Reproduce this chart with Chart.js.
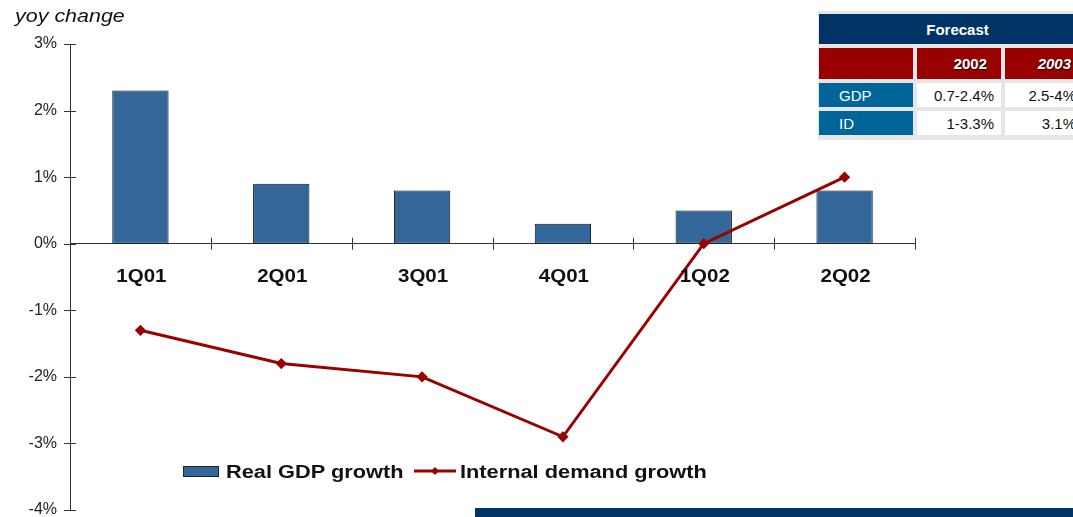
<!DOCTYPE html>
<html>
<head>
<meta charset="utf-8">
<script src="https://cdn.jsdelivr.net/npm/chart.js@4/dist/chart.umd.min.js"></script>
<style>
  html, body { margin: 0; padding: 0; background: #fff; overflow: hidden; }
  #wrap { position: relative; width: 1073px; height: 517px; overflow: hidden;
          font-family: "Liberation Sans", Arial, sans-serif; }
  #chart { position: absolute; left: 0; top: 0; }
  .wide { display: inline-block; transform-origin: 0 50%; white-space: nowrap; }
  #title { position: absolute; left: 15px; top: 5px; font-size: 19px; font-style: italic; color: #111;
           transform: scaleX(1.13); }
  #legend { position: absolute; left: 0; top: 0; font-size: 18px; font-weight: bold; color: #111; }
  #legend > * { position: absolute; }
  #legend .box { width: 34px; height: 9px; background: #336699; border: 1px solid #222; }
  #legend .txt { transform: scaleX(1.21); }
  #forecast { position: absolute; left: 818px; top: 11px; width: 300px; background: #e6e6e6;
              padding: 3px 0 1px 1px; }
  #forecast table { border-collapse: separate; border-spacing: 0 4px; font-size: 15px; margin-top: -4px;
                    table-layout: fixed; }
  #forecast td { padding: 0 7px; height: 24px; box-sizing: border-box; }
  #forecast .head { background: #003366; color: #fff; font-weight: bold; text-align: center;
                    height: 30px; padding-left: 18px; }
  #forecast .yr td { background: #990000; color: #fff; font-weight: bold;
                     text-align: right; height: 31px; text-shadow: 1px 1px 1px #000; padding-right: 14px; }
  #forecast .yr td.it { font-style: italic; }
  #forecast .lab { background: #006699; color: #fff; text-align: left; padding-left: 20px; }
  #forecast .val { background: #fff; color: #111; text-align: right; }
  #forecast .gap { border-left: 4px solid #e6e6e6; }
  #band { position: absolute; left: 475px; top: 508px; width: 598px; height: 9px; background: #003366; }
</style>
</head>
<body>
<div id="wrap">
  <canvas id="chart" width="1073" height="517"></canvas>
  <div id="title" class="wide">yoy change</div>
  <div id="legend"></div>
  <div id="forecast"></div>
  <div id="band"></div>
</div>
<script>
const quarters = ['1Q01', '2Q01', '3Q01', '4Q01', '1Q02', '2Q02'];
const realGdpGrowth = [2.3, 0.9, 0.8, 0.3, 0.5, 0.8];
const internalDemandGrowth = [-1.3, -1.8, -2.0, -2.9, 0.0, 1.0];
const yTicks = [3, 2, 1, 0, -1, -2, -3, -4];

const forecastYears = ['2002', '2003'];
const forecastRows = ['GDP', 'ID'];
const forecastValues = [['0.7-2.4%', '2.5-4%'], ['1-3.3%', '3.1%']];

const font = "'Liberation Sans', Arial, sans-serif";
const barBlue = '#336699';
const lineRed = '#990000';

// tick marks crossing both axes, plus wide bold quarter labels under the zero line
const axisDecor = {
  id: 'axisDecor',
  afterDatasetsDraw(chart) {
    const { ctx, scales: { x, y } } = chart;
    const y0 = y.getPixelForValue(0);
    ctx.save();
    ctx.strokeStyle = '#333';
    ctx.lineWidth = 1;
    ctx.beginPath();
    yTicks.forEach(v => {
      const py = Math.round(y.getPixelForValue(v)) + 0.5;
      ctx.moveTo(x.left - 6, py);
      ctx.lineTo(x.left + 6, py);
    });
    const step = x.getPixelForValue(1) - x.getPixelForValue(0);
    for (let i = 0; i <= quarters.length; i++) {
      const px = Math.round(x.getPixelForValue(0) - step / 2 + i * step) + 0.5;
      ctx.moveTo(px, y0 - 6);
      ctx.lineTo(px, y0 + 6);
    }
    ctx.stroke();

    ctx.fillStyle = '#111';
    ctx.font = 'bold 18px ' + font;
    ctx.textAlign = 'center';
    ctx.textBaseline = 'alphabetic';
    quarters.forEach((q, i) => {
      ctx.save();
      ctx.translate(x.getPixelForValue(i) + 1, y0 + 38);
      ctx.scale(1.14, 1);
      ctx.fillText(x.getLabelForValue(i), 0, 0);
      ctx.restore();
    });
    ctx.restore();
  }
};

function noPadding(scale) {
  scale.paddingTop = 0;
  scale.paddingBottom = 0;
  scale.paddingLeft = 0;
  scale.paddingRight = 0;
}

const chart = new Chart(document.getElementById('chart'), {
  data: {
    labels: quarters,
    datasets: [
      {
        type: 'line',
        label: 'Internal demand growth',
        data: internalDemandGrowth,
        borderColor: lineRed,
        backgroundColor: lineRed,
        borderWidth: 3,
        pointStyle: 'rectRot',
        pointRadius: 3.5,
        pointHoverRadius: 3.5,
        tension: 0,
        order: 0
      },
      {
        type: 'bar',
        label: 'Real GDP growth',
        data: realGdpGrowth,
        backgroundColor: barBlue,
        borderColor: '#111',
        borderWidth: 1,
        borderSkipped: false,
        barPercentage: 0.4,
        categoryPercentage: 1,
        order: 1
      }
    ]
  },
  plugins: [axisDecor],
  options: {
    responsive: false,
    animation: false,
    devicePixelRatio: 1,
    layout: { padding: { left: 0, top: 44, right: 158, bottom: 7 } },
    plugins: { legend: { display: false }, tooltip: { enabled: false } },
    scales: {
      x: {
        position: { y: 0 },
        offset: true,
        afterFit: noPadding,
        grid: { display: false },
        border: { display: true, color: '#333', width: 1 },
        ticks: { display: false }
      },
      y: {
        min: -4,
        max: 3,
        afterFit(scale) { scale.width = 70; noPadding(scale); },
        afterBuildTicks(scale) { scale.ticks = yTicks.map(v => ({ value: v })); },
        grid: { display: false },
        border: { display: true, color: '#333', width: 1 },
        ticks: {
          padding: 5,
          color: '#222',
          font: { family: font, size: 16 },
          callback: v => v + '%'
        }
      }
    }
  }
});

// legend built from the datasets
const legend = document.getElementById('legend');
const bars = chart.data.datasets[1];
const line = chart.data.datasets[0];

const box = document.createElement('div');
box.className = 'box';
box.style.left = '183px';
box.style.top = '466px';
legend.appendChild(box);

const swatch = document.createElement('canvas');
swatch.width = 42; swatch.height = 12;
swatch.style.left = '414px';
swatch.style.top = '465px';
const g = swatch.getContext('2d');
g.strokeStyle = line.borderColor; g.lineWidth = 3;
g.beginPath(); g.moveTo(0, 6); g.lineTo(42, 6); g.stroke();
g.fillStyle = line.borderColor;
g.beginPath(); g.moveTo(21, 2); g.lineTo(25, 6); g.lineTo(21, 10); g.lineTo(17, 6); g.closePath(); g.fill();
legend.appendChild(swatch);

[[bars.label, 226], [line.label, 460]].forEach(([label, left]) => {
  const t = document.createElement('span');
  t.className = 'txt wide';
  t.textContent = label;
  t.style.left = left + 'px';
  t.style.top = '462px';
  legend.appendChild(t);
});

// forecast table
let html = '<table><colgroup><col style="width:94px"><col style="width:88px"><col style="width:84px"></colgroup>';
html += '<tr><td class="head" colspan="3">Forecast</td></tr>';
html += '<tr class="yr"><td></td>' +
  forecastYears.map((y, i) => '<td class="gap' + (i ? ' it' : '') + '">' + y + '</td>').join('') + '</tr>';
forecastRows.forEach((r, i) => {
  html += '<tr><td class="lab">' + r + '</td>' +
    forecastValues[i].map((v, j) => '<td class="val gap"' + (j ? ' style="padding-right:9px"' : '') + '>' + v + '</td>').join('') + '</tr>';
});
html += '</table>';
document.getElementById('forecast').innerHTML = html;
</script>
</body>
</html>
